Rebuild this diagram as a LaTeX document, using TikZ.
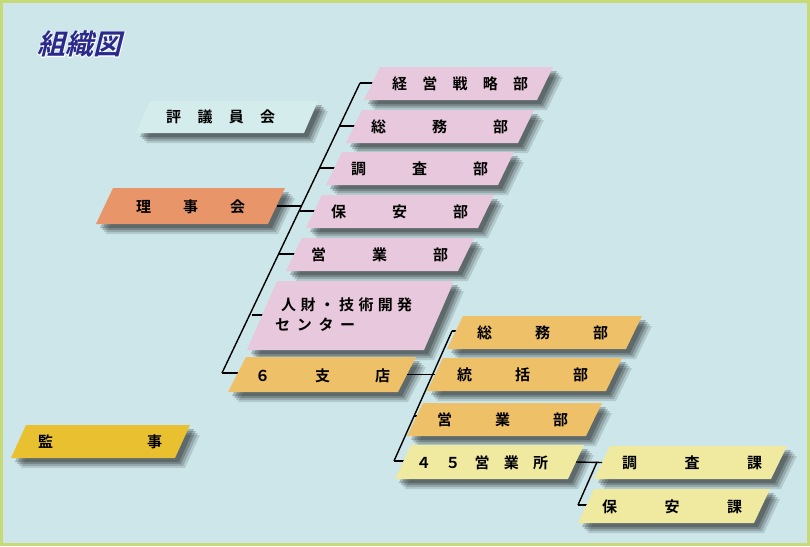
\documentclass[tikz,border=0pt]{standalone}
\usepackage{fontspec}
\newfontfamily\jp{Noto Sans CJK JP Bold}
\newfontfamily\jpit[FakeSlant=0.25]{Noto Sans CJK JP Bold}
\newfontfamily\jpol[FakeSlant=0.25,FakeBold=5]{Noto Sans CJK JP Bold}
\definecolor{bg}{HTML}{CCE6EA}
\definecolor{frame}{HTML}{C8DA78}
\definecolor{pinkb}{HTML}{E8C8DC}
\definecolor{aqua}{HTML}{D4ECEC}
\definecolor{orangeb}{HTML}{E8956A}
\definecolor{goldb}{HTML}{E8C030}
\definecolor{ambr}{HTML}{EEC068}
\definecolor{yelb}{HTML}{F0EAA0}
\definecolor{navy}{HTML}{2A2A8C}
% #1 name #2 TLx #3 top #4 TRx #5 bottom #6 slant #7 colour
\newcommand\pgram[7]{%
  \foreach \o/\a in {10/0.12,8/0.16,6/0.2,4/0.22}{
    \fill[black,opacity=\a] (#2+\o,#3+\o) -- (#4+\o,#3+\o) -- (#4-#6+\o,#5+\o) -- (#2-#6+\o,#5+\o) -- cycle;}
  \fill[#7] (#2,#3) -- (#4,#3) -- (#4-#6,#5) -- (#2-#6,#5) -- cycle;
  \coordinate (#1-l) at ({#2-#6/2},{(#3+#5)/2});
  \coordinate (#1-r) at ({#4-#6/2},{(#3+#5)/2});
}
\newcommand\lab[4]{\node[anchor=west,inner sep=0,font=\jp\fontsize{15}{15}\selectfont] at (#1,#2) {\makebox[#3pt][s]{#4}};}
\tikzset{conn/.style={draw=black,line width=1.4pt}}
\begin{document}
\begin{tikzpicture}[x=1pt,y=-1pt]
\useasboundingbox (0,0) rectangle (810,546);
\fill[frame] (0,0) rectangle (810,546);
\fill[bg] (3,3) rectangle (807,543);
% title
\node[anchor=west,inner sep=0,font=\jpol\fontsize{28}{28}\selectfont,text=white] at (37,44) {組織図};
\node[anchor=west,inner sep=0,font=\jpit\fontsize{28}{28}\selectfont,text=navy] (title) at (37,44) {組織図};
% trunks and branches (under shapes)
\coordinate (t1a) at (360,83);
\coordinate (t1b) at (222,373);
\draw[conn] (t1a) -- (t1b);
\coordinate (t2a) at (452,331);
\coordinate (t2b) at (394,461);
\draw[conn] (t2a) -- (t2b);
\coordinate (t3a) at (597,462);
\coordinate (t3b) at (578,505);
\draw[conn] (t3a) -- (t3b);
\draw[conn] (360,83) -- (375,83);
\draw[conn] (340,126) -- (355,126);
\draw[conn] (320,168) -- (335,168);
\draw[conn] (300,211) -- (315,211);
\draw[conn] (279,254) -- (295,254);
\draw[conn] (252,315) -- (265,315);
\draw[conn] (t1b) -- (240,373);
\draw[conn] (t2a) -- (458,331);
\draw[conn] (414,416) -- (418,416);
\draw[conn] (t2b) -- (405,461);
\draw[conn] (t3b) -- (590,505);
% boxes
\pgram{hyo}{150}{101}{318}{133}{14}{aqua}
\pgram{rij}{113}{188}{285}{224}{17}{orangeb}
\pgram{kan}{26}{425}{190}{458}{15}{goldb}
\pgram{p1}{380}{67}{553}{100}{16}{pinkb}
\pgram{p2}{362}{110}{534}{143}{16}{pinkb}
\pgram{p3}{342}{152}{514}{185}{16}{pinkb}
\pgram{p4}{322}{195}{494}{228}{16}{pinkb}
\pgram{p5}{302}{238}{474}{271}{16}{pinkb}
\pgram{p6}{277}{281}{454}{350}{30}{pinkb}
\pgram{shi}{246}{357}{416}{392}{18}{ambr}
\pgram{o1}{463}{316}{642}{349}{16}{ambr}
\pgram{o2}{443}{358}{622}{391}{16}{ambr}
\pgram{o3}{423}{403}{602}{436}{16}{ambr}
\pgram{y1}{411}{445}{584}{479}{16}{yelb}
\pgram{y2}{610}{446}{787}{479}{16}{yelb}
\pgram{y3}{594}{489}{770}{523}{16}{yelb}
% cross links drawn over shadows
\draw[conn] (rij-r) -- (301,206);
\draw[conn] (shi-r) -- (o2-l);
\draw[conn] (y1-r) -- (y2-l);
% labels
\lab{166}{117}{109}{評\hfill 議\hfill 員\hfill 会}
\lab{136}{207}{109}{理\hfill 事\hfill 会}
\lab{38}{442}{124}{監\hfill 事}
\lab{392}{84}{136}{経\hfill 営\hfill 戦\hfill 略\hfill 部}
\lab{371}{127}{137}{総\hfill 務\hfill 部}
\lab{351}{169}{137}{調\hfill 査\hfill 部}
\lab{331}{212}{137}{保\hfill 安\hfill 部}
\lab{311}{255}{137}{営\hfill 業\hfill 部}
\lab{281}{305}{131}{人\hfill 財\hfill ・\hfill 技\hfill 術\hfill 開\hfill 発}
\lab{275}{325}{80}{セ\hfill ン\hfill タ\hfill ー}
\lab{255}{376}{135}{６\hfill 支\hfill 店}
\lab{477}{333}{131}{総\hfill 務\hfill 部}
\lab{457}{375}{131}{統\hfill 括\hfill 部}
\lab{437}{420}{131}{営\hfill 業\hfill 部}
\lab{416}{463}{132}{４\hfill ５\hfill 営\hfill 業\hfill 所}
\lab{622}{463}{140}{調\hfill 査\hfill 課}
\lab{602}{507}{140}{保\hfill 安\hfill 課}
\end{tikzpicture}
\end{document}
